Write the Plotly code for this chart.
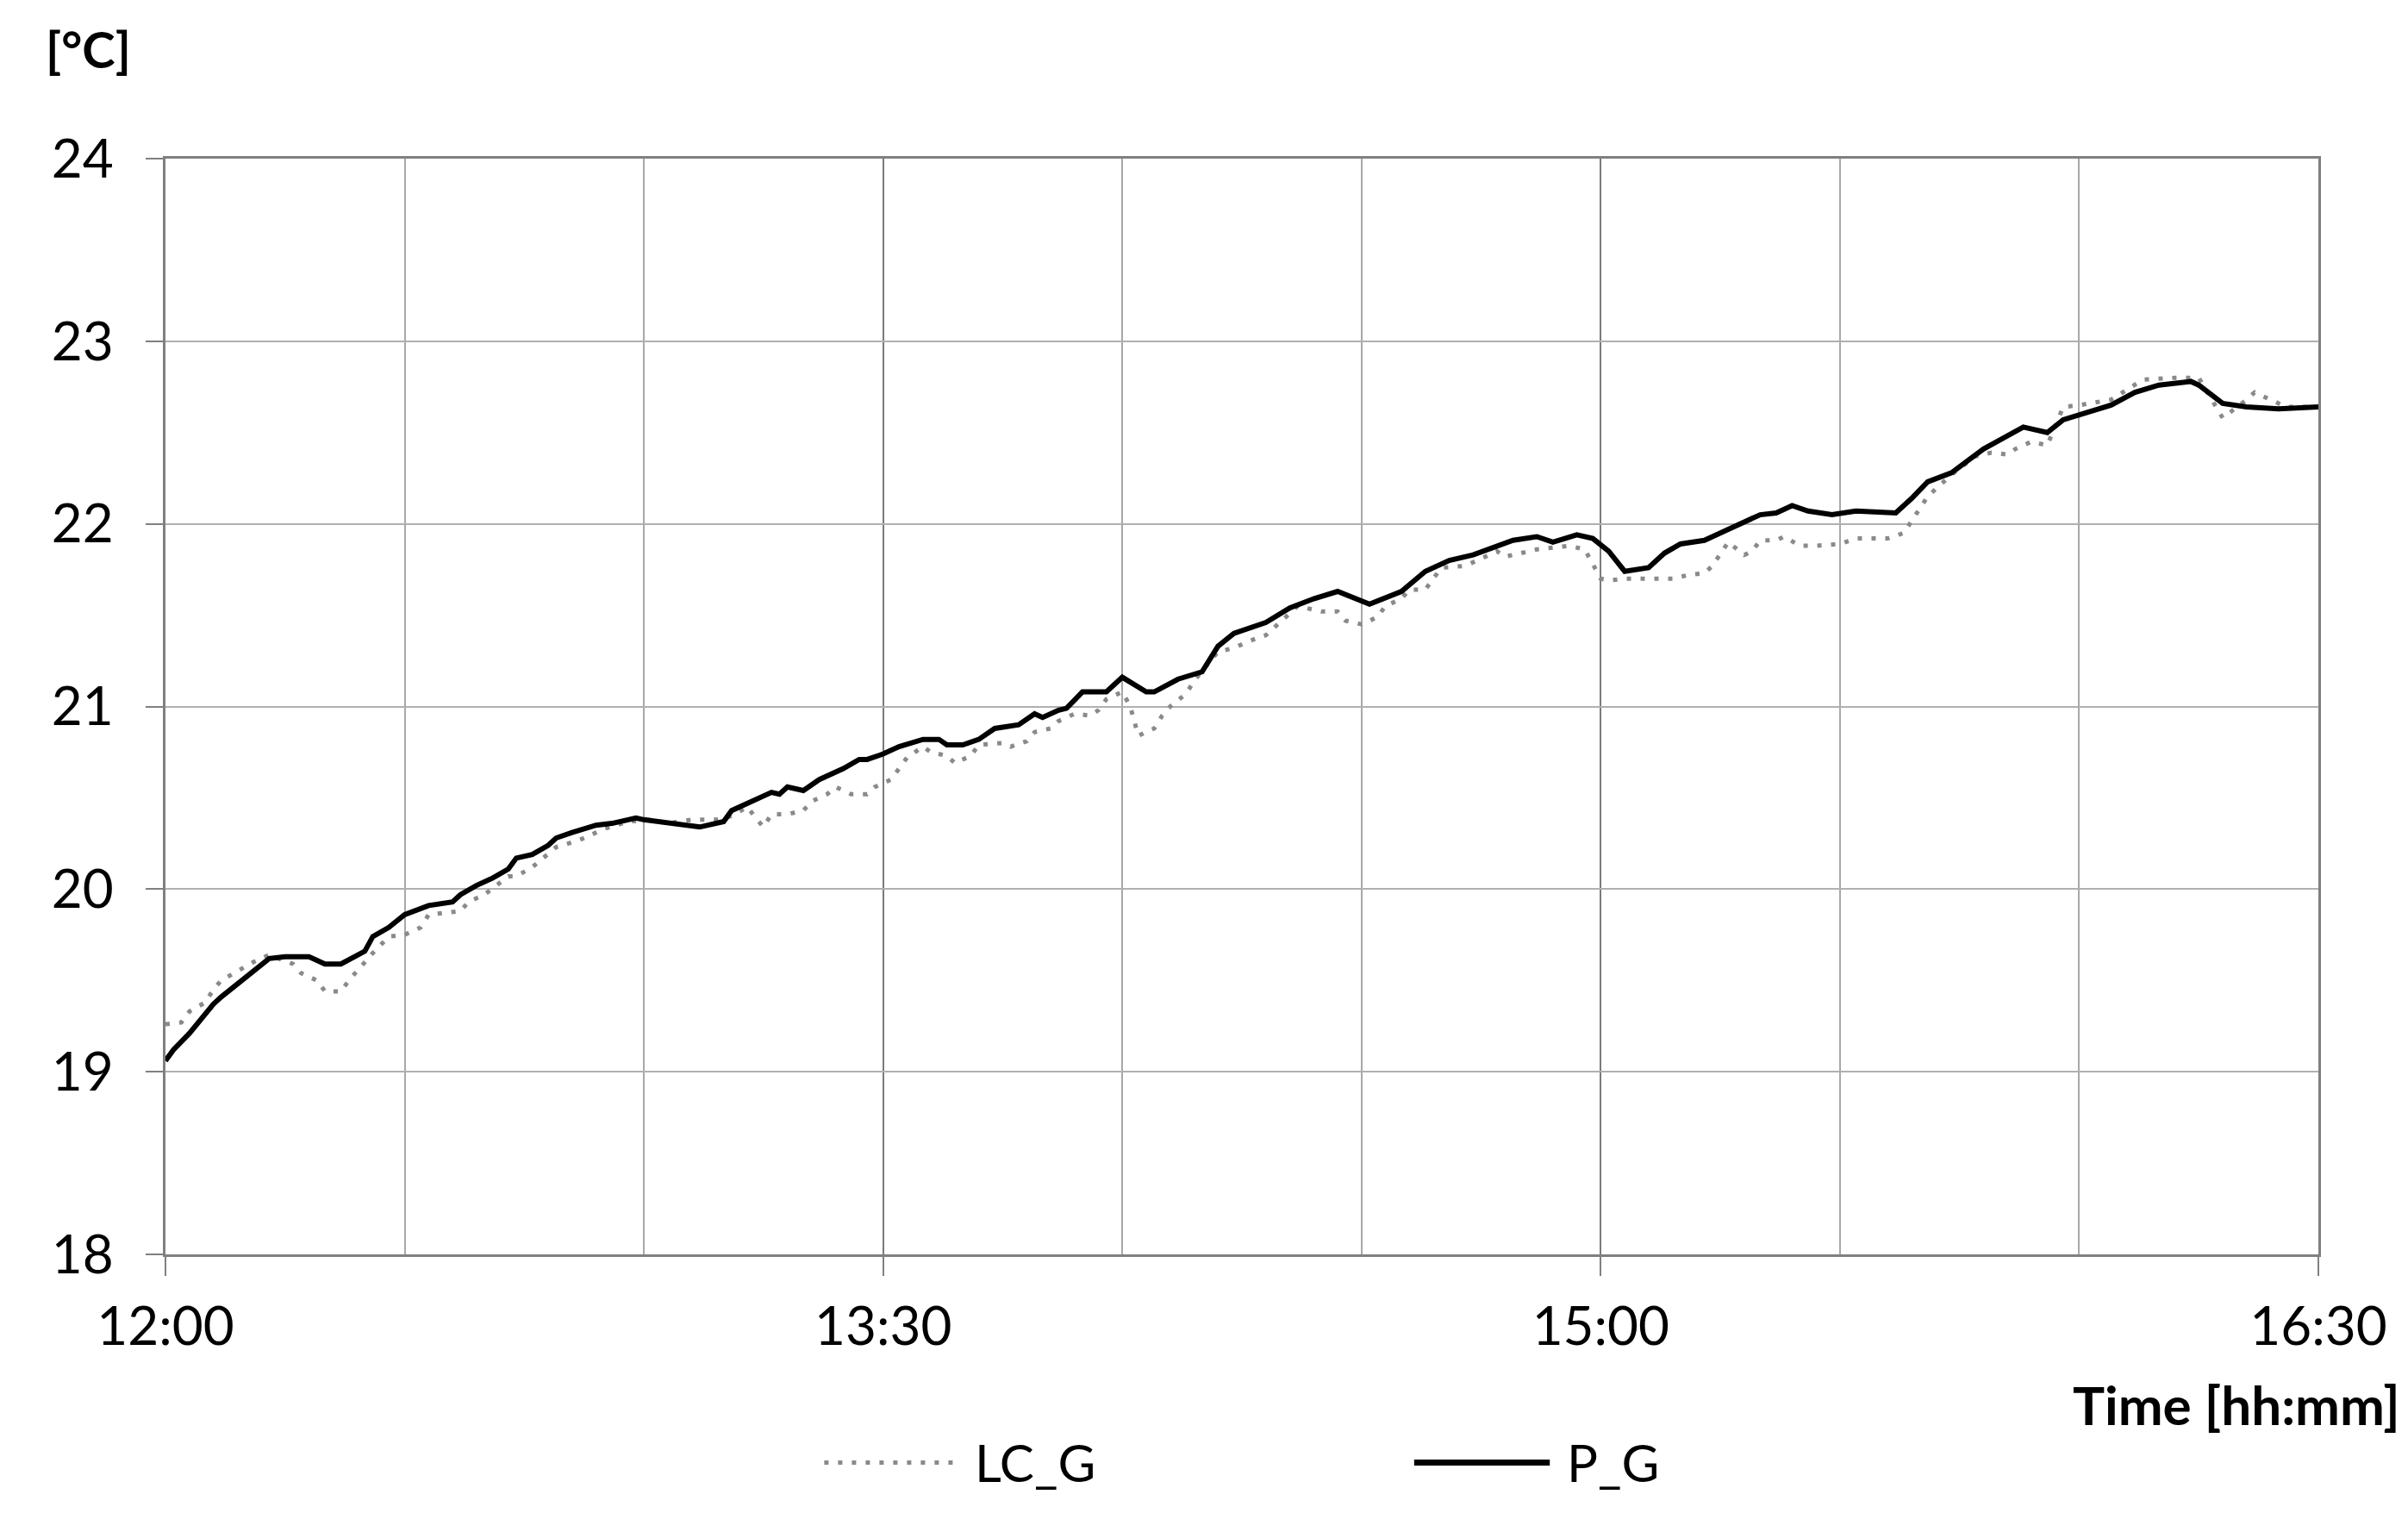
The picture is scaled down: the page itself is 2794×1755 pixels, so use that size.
import pandas as pd
import plotly.graph_objects as go

# time axis: minutes after 12:00
start = pd.Timestamp("2000-01-01 12:00")

lc_min = [0, 2, 3, 5, 6, 7, 9, 11, 13, 16, 17, 19, 20, 22, 23, 24, 26, 28, 30, 32,
          33, 37, 38, 40, 43, 44, 46, 49, 52, 55, 58, 61, 63, 66, 69, 71, 73, 74, 75, 76,
          78, 80, 81, 83, 84, 86, 88, 89, 91, 92, 93, 95, 96, 98, 99, 101, 102, 105, 106, 108,
          109, 111, 112, 114, 116, 117, 118, 120, 121, 122, 124, 125, 126, 128, 129, 132, 134, 136, 138, 142,
          145, 147, 148, 150, 152, 153, 155, 156, 158, 160, 163, 167, 168, 172, 176, 178, 179, 180, 181, 183,
          185, 187, 189, 191, 193, 194, 195, 196, 198, 199, 200, 202, 203, 205, 207, 209, 210, 212, 214, 216,
          218, 219, 220, 221, 224, 227, 229, 231, 232, 234, 236, 238, 240, 244, 248, 252, 255, 258, 261, 262,
          264, 266, 270]
lc_temp = [19.26, 19.27, 19.33, 19.38, 19.45, 19.50, 19.55, 19.60, 19.64, 19.59, 19.54, 19.50, 19.44, 19.44, 19.50, 19.55, 19.65, 19.74, 19.75, 19.79,
           19.86, 19.88, 19.93, 19.97, 20.07, 20.07, 20.12, 20.23, 20.27, 20.33, 20.37, 20.38, 20.36, 20.38, 20.38, 20.40, 20.45, 20.39, 20.34, 20.41,
           20.41, 20.43, 20.48, 20.52, 20.56, 20.52, 20.52, 20.56, 20.60, 20.66, 20.72, 20.78, 20.75, 20.73, 20.69, 20.73, 20.79, 20.80, 20.78, 20.81,
           20.86, 20.88, 20.92, 20.96, 20.95, 20.98, 21.04, 21.08, 21.00, 20.84, 20.88, 20.95, 21.00, 21.07, 21.14, 21.30, 21.32, 21.36, 21.39, 21.55,
           21.52, 21.52, 21.47, 21.45, 21.49, 21.55, 21.59, 21.64, 21.64, 21.76, 21.77, 21.85, 21.82, 21.86, 21.88, 21.86, 21.78, 21.70, 21.69, 21.70,
           21.70, 21.70, 21.70, 21.72, 21.73, 21.77, 21.83, 21.90, 21.83, 21.85, 21.91, 21.91, 21.93, 21.88, 21.88, 21.89, 21.89, 21.92, 21.92, 21.92,
           21.95, 22.02, 22.08, 22.15, 22.27, 22.37, 22.39, 22.38, 22.41, 22.45, 22.43, 22.64, 22.65, 22.68, 22.79, 22.80, 22.80, 22.58, 22.68, 22.72,
           22.68, 22.64, 22.64]

p_min = [0, 1, 3, 5, 6, 7, 9, 11, 13, 15, 18, 20, 22, 25, 26, 28, 30, 33, 36, 37,
         39, 41, 43, 44, 46, 48, 49, 51, 54, 56, 59, 60, 63, 65, 67, 70, 71, 76, 77, 78,
         80, 82, 85, 87, 88, 90, 92, 95, 97, 98, 100, 102, 104, 107, 109, 110, 112, 113, 115, 118,
         120, 123, 124, 127, 130, 132, 134, 138, 141, 144, 147, 151, 155, 158, 161, 164, 167, 169, 172, 174,
         177, 179, 181, 183, 186, 188, 190, 193, 196, 200, 202, 204, 206, 209, 212, 215, 217, 219, 221, 224,
         228, 233, 236, 238, 244, 247, 250, 254, 255, 258, 261, 265, 270]
p_temp = [19.06, 19.12, 19.21, 19.32, 19.37, 19.41, 19.48, 19.55, 19.62, 19.63, 19.63, 19.59, 19.59, 19.66, 19.74, 19.79, 19.86, 19.91, 19.93, 19.97,
          20.02, 20.06, 20.11, 20.17, 20.19, 20.24, 20.28, 20.31, 20.35, 20.36, 20.39, 20.38, 20.36, 20.35, 20.34, 20.37, 20.43, 20.53, 20.52, 20.56,
          20.54, 20.60, 20.66, 20.71, 20.71, 20.74, 20.78, 20.82, 20.82, 20.79, 20.79, 20.82, 20.88, 20.90, 20.96, 20.94, 20.98, 20.99, 21.08, 21.08,
          21.16, 21.08, 21.08, 21.15, 21.19, 21.33, 21.40, 21.46, 21.54, 21.59, 21.63, 21.56, 21.63, 21.74, 21.80, 21.83, 21.88, 21.91, 21.93, 21.90,
          21.94, 21.92, 21.85, 21.74, 21.76, 21.84, 21.89, 21.91, 21.97, 22.05, 22.06, 22.10, 22.07, 22.05, 22.07, 22.06, 22.06, 22.14, 22.23, 22.28,
          22.41, 22.53, 22.50, 22.57, 22.65, 22.72, 22.76, 22.78, 22.76, 22.66, 22.64, 22.63, 22.64]

lc_time = [start + pd.Timedelta(minutes=m) for m in lc_min]
p_time = [start + pd.Timedelta(minutes=m) for m in p_min]

LC_STYLE = dict(color="#8a8a8a", width=5, dash="5px,11px")
P_STYLE = dict(color="black", width=6)

fig = go.Figure()
fig.add_trace(go.Scatter(x=lc_time, y=lc_temp, name="LC_G", mode="lines",
                         line=LC_STYLE, showlegend=False))
fig.add_trace(go.Scatter(x=p_time, y=p_temp, name="P_G", mode="lines",
                         line=P_STYLE, showlegend=False))

# legend below the plot, with long line samples like the original
leg_y = -0.19
shapes = [
    dict(type="line", xref="paper", yref="paper", x0=0.306, x1=0.367, y0=leg_y, y1=leg_y, line=LC_STYLE),
    dict(type="line", xref="paper", yref="paper", x0=0.580, x1=0.643, y0=leg_y, y1=leg_y,
         line=dict(color="black", width=7)),
]
annotations = [
    dict(text="LC_G", xref="paper", yref="paper", x=0.375, y=leg_y,
         xanchor="left", yanchor="middle", showarrow=False, font=dict(size=60)),
    dict(text="P_G", xref="paper", yref="paper", x=0.650, y=leg_y,
         xanchor="left", yanchor="middle", showarrow=False, font=dict(size=60)),
    dict(text="<b>[°C]</b>", xref="paper", yref="paper", x=-0.036, y=1.10,
         xanchor="center", yanchor="middle", showarrow=False,
         font=dict(family="Liberation Sans Narrow, Arial Narrow, Lato", size=58)),
    dict(text="<b>Time [hh:mm]</b>", xref="paper", yref="paper", x=1.039, y=-0.137,
         xanchor="right", yanchor="middle", showarrow=False, font=dict(size=62)),
]

fig.update_layout(
    width=2794, height=1755,
    margin=dict(l=184, r=112, t=176, b=308),
    paper_bgcolor="white", plot_bgcolor="white",
    font=dict(family="Lato, Calibri, sans-serif", size=60, color="black"),
    shapes=shapes,
    annotations=annotations,
)

fig.update_xaxes(
    type="date",
    range=[start, start + pd.Timedelta(minutes=270)],
    tick0=start, dtick=90 * 60 * 1000, tickformat="%H:%M",
    ticks="outside", ticklen=22, tickwidth=2, tickcolor="#808080",
    ticklabelstandoff=6, tickfont=dict(size=62),
    showgrid=True, gridcolor="#7a7a7a", gridwidth=2,
    minor=dict(dtick=30 * 60 * 1000, showgrid=True, gridcolor="#a8a8a8", gridwidth=2, ticks=""),
    showline=True, linecolor="#808080", linewidth=3, mirror=True,
)
fig.update_yaxes(
    range=[18, 24], dtick=1,
    ticks="outside", ticklen=20, tickwidth=2, tickcolor="#808080",
    ticklabelstandoff=25, tickfont=dict(size=62),
    showgrid=True, gridcolor="#b0b0b0", gridwidth=2, zeroline=False,
    showline=True, linecolor="#808080", linewidth=3, mirror=True,
)

fig.write_html("out.html")
